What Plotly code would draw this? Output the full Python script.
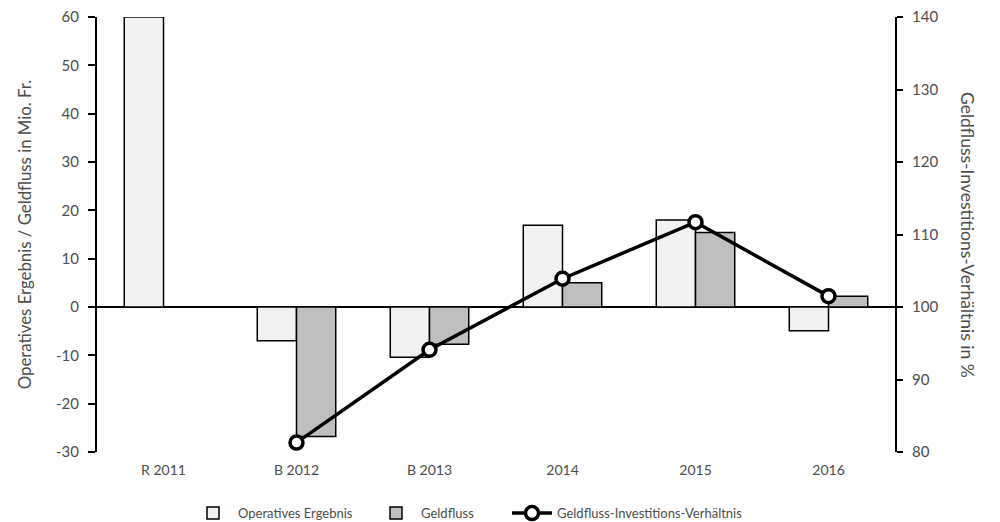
import plotly.graph_objects as go

categories = ["R 2011", "B 2012", "B 2013", "2014", "2015", "2016"]
operatives_ergebnis = [60, -7.0, -10.4, 16.9, 18.0, -4.9]
geldfluss = [None, -26.8, -7.7, 5.0, 15.4, 2.2]
verhaeltnis = [None, 81.3, 94.1, 103.9, 111.7, 101.5]

left_ticks = [-30, -20, -10, 0, 10, 20, 30, 40, 50, 60]
left_ticktext = ["-30", "-20", "-10", "0", "10", "20", "30", "40", "50", "60"]
right_ticks = [80, 90, 100, 110, 120, 130, 140]

FONT = "Lato"
TXT = "#4d4d4d"

fig = go.Figure()
fig.add_trace(go.Bar(
    x=categories, y=operatives_ergebnis, name="Operatives Ergebnis",
    marker=dict(color="#f2f2f2", line=dict(color="black", width=1.5)),
    legend="legend",
))
fig.add_trace(go.Bar(
    x=categories, y=geldfluss, name="Geldfluss",
    marker=dict(color="#bfbfbf", line=dict(color="black", width=1.5)),
    legend="legend2",
))
fig.add_trace(go.Scatter(
    x=categories, y=verhaeltnis, name="Geldfluss-Investitions-Verhältnis",
    yaxis="y2", mode="lines+markers",
    line=dict(color="black", width=3.5),
    marker=dict(size=13, color="white", line=dict(color="black", width=3.5)),
    legend="legend3",
))


def legend_at(x_px):
    return dict(orientation="h", xref="container", yref="container",
                x=x_px / 1000, xanchor="left", y=0.017, yanchor="middle",
                font=dict(size=13, color=TXT), itemwidth=40,
                bgcolor="rgba(0,0,0,0)")


fig.update_layout(
    width=1000, height=522,
    margin=dict(l=97, r=105, t=17, b=70, autoexpand=False),
    paper_bgcolor="white", plot_bgcolor="white",
    font=dict(family=FONT, color=TXT, size=15),
    barmode="group", bargap=0.41, bargroupgap=0,
    showlegend=True,
    legend=legend_at(188),
    legend2=legend_at(371),
    legend3=legend_at(507),
    xaxis=dict(type="category", showline=False, ticks="", showgrid=False,
               tickfont=dict(size=14, color=TXT), ticklabelstandoff=8),
    yaxis=dict(range=[-30, 60], tickvals=left_ticks, ticktext=left_ticktext,
               showgrid=False, zeroline=True,
               zerolinecolor="black", zerolinewidth=2,
               showline=True, linecolor="black", linewidth=2,
               ticks="outside", ticklen=7, tickwidth=2, tickcolor="black",
               ticklabelstandoff=6,
               tickfont=dict(size=15, color=TXT),
               title=dict(text="Operatives Ergebnis / Geldfluss in Mio. Fr.",
                          font=dict(size=16.8, color=TXT), standoff=20)),
    yaxis2=dict(range=[80, 140], tickvals=right_ticks, overlaying="y", side="right",
                showgrid=False, zeroline=False,
                showline=True, linecolor="black", linewidth=2,
                ticks="outside", ticklen=6, tickwidth=2, tickcolor="black",
                ticklabelstandoff=6,
                tickfont=dict(size=15, color=TXT)),
    annotations=[dict(
        text="Geldfluss-Investitions-Verhältnis in %", textangle=90,
        xref="paper", yref="paper", x=1.0, xshift=85, y=0.5,
        showarrow=False, font=dict(size=17.5, color=TXT),
    )],
)

fig.write_html("out.html")
